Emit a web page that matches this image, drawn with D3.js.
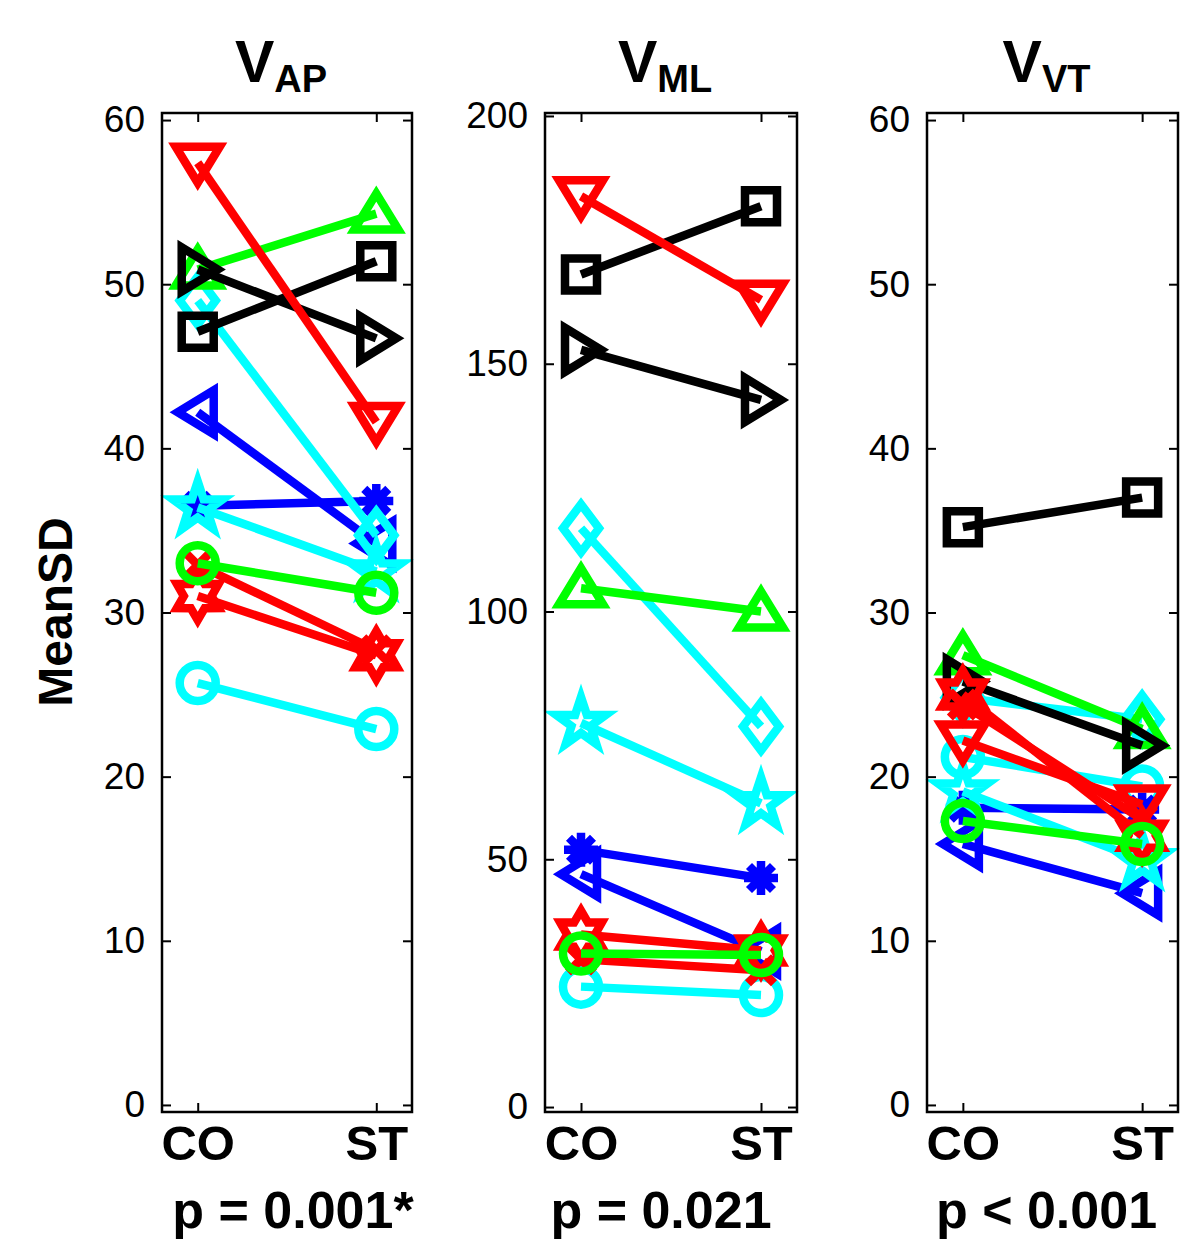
<!DOCTYPE html>
<html><head><meta charset="utf-8">
<script src="https://cdn.jsdelivr.net/npm/d3@7"></script>
<style>body{margin:0;background:#fff}svg{display:block}</style>
</head><body><svg id="chart" width="1200" height="1250"></svg>
<script>
// ---------------- data ----------------
const conditions = ["CO", "ST"];
// subjects in drawing order
const subjectColors  = ["#00ffff","#0000ff","#0000ff","#00ffff","#00ffff","#00ff00","#000000","#000000","#ff0000","#ff0000","#ff0000","#00ff00"];
const subjectMarkers = ["circle","trileft","asterisk","pentagram","diamond","triup","square","triright","cross","hexagram","tridown","circle"];

const vapCO = [25.7, 42.2, 36.5, 36.4, 49.0, 50.9, 47.1, 50.9, 32.9, 31.0, 57.4, 33.0];
const vapST = [22.9, 34.2, 36.8, 32.5, 34.7, 54.3, 51.4, 46.7, 27.7, 27.4, 41.6, 31.2];

const vmlCO = [24.3, 47.0, 51.9, 77.5, 116.8, 104.7, 168.0, 152.8, 29.8, 34.8, 183.8, 31.0];
const vmlST = [22.6, 31.4, 46.2, 61.3, 76.8, 100.0, 181.8, 142.7, 27.6, 31.6, 162.9, 30.7];

const vvtCO = [21.2, 15.9, 18.1, 19.1, 24.8, 27.4, 35.2, 25.8, 24.4, 25.0, 22.2, 17.3];
const vvtST = [19.4, 12.9, 18.0, 14.9, 23.5, 22.9, 37.0, 21.9, 17.4, 16.4, 18.3, 15.9];

const titleBase = ["V", "V", "V"];
const titleSub  = ["AP", "ML", "VT"];
const pLabels   = ["p = 0.001*", "p = 0.021", "p < 0.001"];
const yTicksAP  = [0, 10, 20, 30, 40, 50, 60];
const yTicksML  = [0, 50, 100, 150, 200];
const yTicksVT  = [0, 10, 20, 30, 40, 50, 60];
const yLabel    = "MeanSD";

// ---------------- layout ----------------
const panels = [
  {co: vapCO, st: vapST, ticks: yTicksAP, dom: [-0.43, 60.43], left: 162, right: 412, pShift: 6},
  {co: vmlCO, st: vmlST, ticks: yTicksML, dom: [-1.0, 200.6],  left: 545, right: 797, pShift: -10},
  {co: vvtCO, st: vvtST, ticks: yTicksVT, dom: [-0.43, 60.43], left: 927, right: 1178, pShift: -6}
];
const frameTop = 113, frameBottom = 1112;
const LW = 8.5;
const FONT = "'Liberation Sans', Arial, Helvetica, sans-serif";

function star(n, ro, ri) {
  const pts = [];
  for (let i = 0; i < 2 * n; i++) {
    const a = -Math.PI / 2 + i * Math.PI / n;
    const r = i % 2 === 0 ? ro : ri;
    pts.push([r * Math.cos(a), r * Math.sin(a)]);
  }
  return "M" + pts.map(p => p[0].toFixed(2) + "," + p[1].toFixed(2)).join("L") + "Z";
}
function markerPath(t) {
  switch (t) {
    case "square":   return "M-16,-16H16V16H-16Z";
    case "circle":   return "M18,0A18,18 0 1,1 -18,0A18,18 0 1,1 18,0Z";
    case "tridown":  return "M-22,-16L22,-16L0,20Z";
    case "triup":    return "M-22,16L22,16L0,-20Z";
    case "triright": return "M-16,-22L-16,22L20,0Z";
    case "trileft":  return "M16,-22L16,22L-20,0Z";
    case "diamond":  return "M0,-24L18,0L0,24L-18,0Z";
    case "pentagram":return star(5, 26, 10);
    case "hexagram": return star(6, 24, 13.9);
    case "asterisk": return "M0,-17V17M-17,0H17M-12,-12L12,12M-12,12L12,-12";
    case "cross":    return "M-13,-13L13,13M-13,13L13,-13";
  }
}

const svg = d3.select("#chart");
svg.append("rect").attr("width", 1200).attr("height", 1250).attr("fill", "#fff");

panels.forEach((P, pi) => {
  const x = d3.scaleLinear().domain([0.8, 2.2]).range([P.left, P.right]);
  const y = d3.scaleLinear().domain(P.dom).range([frameBottom, frameTop]);
  const g = svg.append("g");

  const la = g.append("g").attr("transform", `translate(${P.left},0)`)
    .call(d3.axisLeft(y).tickValues(P.ticks).tickSize(-9).tickSizeOuter(0).tickPadding(17));
  const ra = g.append("g").attr("transform", `translate(${P.right},0)`)
    .call(d3.axisRight(y).tickValues(P.ticks).tickSize(-9).tickSizeOuter(0).tickFormat(""));
  const ba = g.append("g").attr("transform", `translate(0,${frameBottom})`)
    .call(d3.axisBottom(x).tickValues([1, 2]).tickFormat(d => conditions[d - 1]).tickSize(-9).tickSizeOuter(0).tickPadding(13));
  const ta = g.append("g").attr("transform", `translate(0,${frameTop})`)
    .call(d3.axisTop(x).tickValues([1, 2]).tickSize(-9).tickSizeOuter(0).tickFormat(""));

  [la, ra, ba, ta].forEach(a => {
    a.select(".domain").remove();
    a.selectAll(".tick line").attr("stroke", "#000").attr("stroke-width", 2);
  });
  la.selectAll("text").attr("font-family", FONT).attr("font-size", 37).attr("fill", "#000");
  ba.selectAll("text").attr("font-family", FONT).attr("font-size", 49).attr("font-weight", "bold").attr("fill", "#000");

  const data = P.co.map((v, i) => ({i, vals: [v, P.st[i]]}));
  const sg = g.selectAll("g.subj").data(data).join("g").attr("class", "subj");
  sg.append("path")
    .attr("d", d => d3.line()(d.vals.map((v, k) => [x(k + 1), y(v)])))
    .attr("fill", "none")
    .attr("stroke", d => subjectColors[d.i])
    .attr("stroke-width", LW)
    .attr("stroke-linecap", "butt");
  sg.selectAll("path.mk").data(d => d.vals.map((v, k) => ({i: d.i, v, k})))
    .join("path").attr("class", "mk")
    .attr("d", d => markerPath(subjectMarkers[d.i]))
    .attr("transform", d => `translate(${x(d.k + 1)},${y(d.v)})`)
    .attr("fill", "none")
    .attr("stroke", d => subjectColors[d.i])
    .attr("stroke-width", LW)
    .attr("stroke-linejoin", "miter")
    .attr("stroke-miterlimit", 10);

  g.append("rect").attr("x", P.left).attr("y", frameTop)
    .attr("width", P.right - P.left).attr("height", frameBottom - frameTop)
    .attr("fill", "none").attr("stroke", "#000").attr("stroke-width", 2.5);

  const cx = (P.left + P.right) / 2 - 6;
  const t = g.append("text").attr("x", cx).attr("y", 82).attr("text-anchor", "middle")
    .attr("font-family", FONT).attr("font-weight", "bold").attr("fill", "#000");
  t.append("tspan").attr("font-size", 59).text(titleBase[pi]);
  t.append("tspan").attr("font-size", 38).attr("dy", 10).text(titleSub[pi]);

  g.append("text").attr("x", (P.left + P.right) / 2 + P.pShift).attr("y", 1228)
    .attr("text-anchor", "middle").attr("font-family", FONT).attr("font-weight", "bold")
    .attr("font-size", 52).attr("fill", "#000").text(pLabels[pi]);
});

svg.append("text").attr("transform", "translate(72,612) rotate(-90)")
  .attr("text-anchor", "middle").attr("font-family", FONT).attr("font-weight", "bold")
  .attr("font-size", 48).attr("fill", "#000").text(yLabel);
</script></body></html>
